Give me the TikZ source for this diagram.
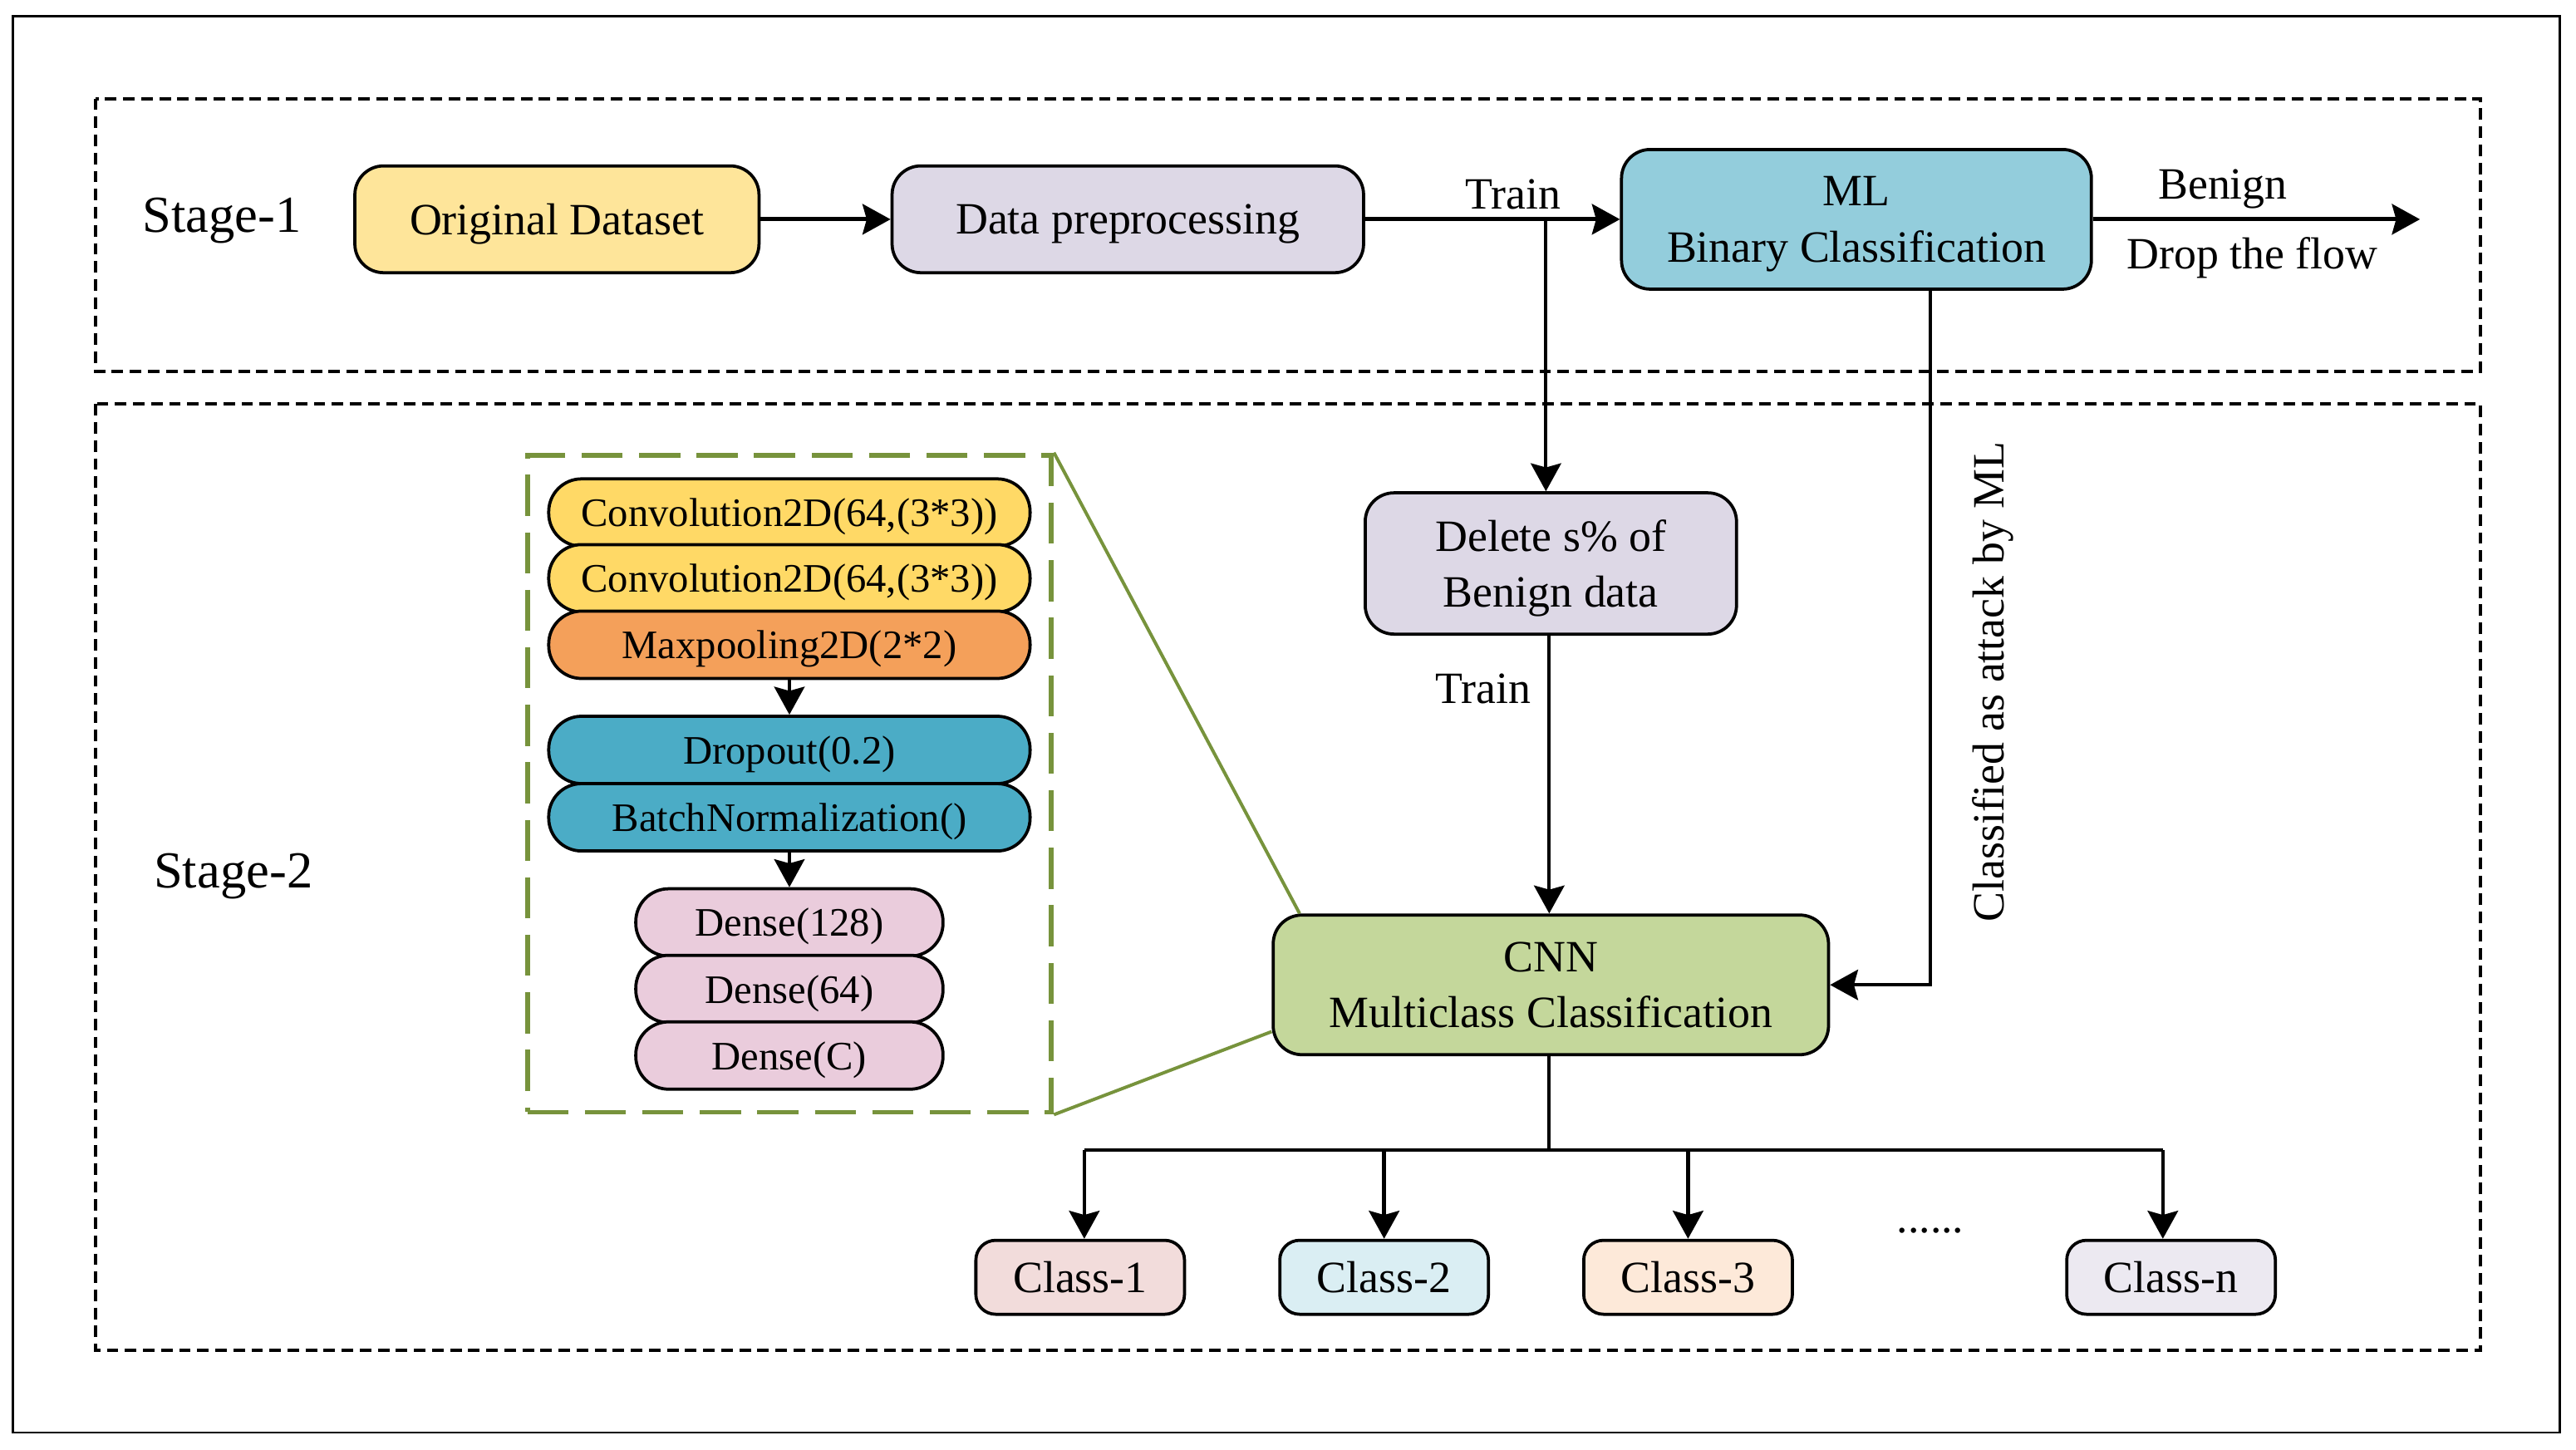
\documentclass[tikz,border=0pt]{standalone}
\usepackage{fontspec}
\setmainfont{Liberation Serif}
\usetikzlibrary{positioning}
\usetikzlibrary{arrows.meta}
\usetikzlibrary{calc}

\definecolor{odfill}{HTML}{FEE59A}
\definecolor{dpfill}{HTML}{DDD8E6}
\definecolor{mlfill}{HTML}{93CDDC}
\definecolor{cnnfill}{HTML}{C4D79B}
\definecolor{convfill}{HTML}{FFD966}
\definecolor{poolfill}{HTML}{F4A05A}
\definecolor{bnfill}{HTML}{4BACC6}
\definecolor{densefill}{HTML}{EACCDC}
\definecolor{clsA}{HTML}{F2DCDB}
\definecolor{clsB}{HTML}{DAEEF3}
\definecolor{clsC}{HTML}{FDE9D9}
\definecolor{clsN}{HTML}{ECE9F1}
\definecolor{zoomgreen}{HTML}{77933C}

\tikzset{
	box/.style={draw, line width=0.38mm, rounded corners=3.5mm, align=center, text depth=0pt, font=\fontsize{15.5}{16.5}\selectfont},
	layer/.style={draw, line width=0.38mm, rounded corners=4mm, minimum height=8.2mm, inner sep=0pt, text depth=0pt, font=\fontsize{14}{16}\selectfont},
	classbox/.style={draw, line width=0.38mm, rounded corners=2.4mm, minimum width=25.4mm, minimum height=9mm, font=\fontsize{15.5}{17}\selectfont},
	stagebox/.style={line width=0.4mm, dash pattern=on 1.4mm off 0.8mm},
	tip/.style={-{Stealth[length=3.4mm,width=3.7mm,inset=0.5mm]}},
	arr/.style={tip, line width=0.5mm},
	thinarr/.style={tip, line width=0.4mm},
	classarr/.style={tip, line width=0.45mm},
	lbl/.style={text depth=0pt, font=\fontsize{15.5}{17}\selectfont}
}

\begin{document}
\begin{tikzpicture}[x=0.2mm, y=-0.2mm]
	\useasboundingbox (0,0) rectangle (1568,882.6);
	
	% frame and stages
	\draw[line width=0.3mm] (8,10) rectangle (1558,872);
	\draw[stagebox] (58,60) rectangle (1510,226);
	\draw[stagebox] (58,246) rectangle (1510,822);
	\node[text depth=0pt, font=\fontsize{18}{20}\selectfont] (s1) at (135,131) {Stage-1};
	\node[text depth=0pt, font=\fontsize{18}{20}\selectfont] (s2) at (142,530) {Stage-2};
	
	% stage 1
	\node[box, fill=odfill, minimum width=49.2mm, minimum height=13mm] (od) at (339,133.5) {Original Dataset};
	\node[box, fill=dpfill, minimum width=57.4mm, minimum height=13mm] (dp) at (686.5,133.5) {Data preprocessing};
	\node[box, fill=mlfill, minimum width=57.2mm, minimum height=17mm] (ml) at (1130,133.5) {ML\\[1mm]Binary Classification};
	\coordinate (split) at (941,133.5);
	\coordinate (drop) at (1473,133.5);
	\coordinate (mlout) at (1175,176);
	
	\draw[arr] (od) -- (dp);
	\draw[arr] (dp) -- (ml);
	\draw[arr] (ml) -- (drop);
	\node[lbl] (tr1) at (921,118) {Train};
	\node[lbl] (ben) at (1353,112) {Benign};
	\node[lbl] (dtf) at (1371,154) {Drop the flow};
	
	% stage 2
	\node[box, fill=dpfill, minimum width=45.2mm, minimum height=17.2mm] (del) at (944,343) {Delete s\% of\\[1mm]Benign data};
	\node[box, fill=cnnfill, minimum width=67.6mm, minimum height=17mm] (cnn) at (944,599.5) {CNN\\[1mm]Multiclass Classification};
	
	\draw[thinarr] (split) -- (split |- del.north);
	\draw[thinarr] ([xshift=-0.2mm]del.south) -- ([xshift=-0.2mm]cnn.north);
	\node[lbl] (tr2) at (903,419) {Train};
	\draw[thinarr] (mlout) |- (cnn.east);
	\node[lbl, rotate=90] (att) at (1210,415) {Classified as attack by ML};
	
	% cnn layers
	\node[draw, zoomgreen, line width=0.6mm, dash pattern=on 5mm off 2mm, minimum width=63.8mm, minimum height=80mm] (zoom) at (480.5,477) {};
	\node[layer, fill=convfill, minimum width=58.6mm] (l1) at (480.5,312) {Convolution2D(64,(3*3))};
	\node[layer, fill=convfill, minimum width=58.6mm] (l2) at (480.5,352) {Convolution2D(64,(3*3))};
	\node[layer, fill=poolfill, minimum width=58.6mm] (l3) at (480.5,392.5) {Maxpooling2D(2*2)};
	\node[layer, fill=bnfill, minimum width=58.6mm] (l4) at (480.5,456.5) {Dropout(0.2)};
	\node[layer, fill=bnfill, minimum width=58.6mm] (l5) at (480.5,497.5) {BatchNormalization()};
	\node[layer, fill=densefill, minimum width=37.4mm] (l6) at (480.5,561.5) {Dense(128)};
	\node[layer, fill=densefill, minimum width=37.4mm] (l7) at (480.5,602) {Dense(64)};
	\node[layer, fill=densefill, minimum width=37.4mm] (l8) at (480.5,642.5) {Dense(C)};
	\draw[thinarr] (l3) -- (l4);
	\draw[thinarr] (l5) -- (l6);
	
	\draw[zoomgreen, line width=0.4mm] (zoom.north east) -- ([xshift=3.4mm]cnn.north west);
	\draw[zoomgreen, line width=0.4mm] (zoom.south east) -- ([yshift=3mm]cnn.south west);
	
	% classes
	\node[classbox, fill=clsA] (c1) at (657.5,777.5) {Class-1};
	\node[classbox, fill=clsB] (c2) at (842.5,777.5) {Class-2};
	\node[classbox, fill=clsC] (c3) at (1027.5,777.5) {Class-3};
	\node[classbox, fill=clsN] (cn) at (1321.5,777.5) {Class-n};
	\node[lbl] (dots) at (1175,749) {......};
	
	\coordinate (bus) at (943,700);
	\draw[line width=0.4mm] (cnn.south -| bus) -- (bus);
	\draw[line width=0.45mm] ([xshift=0.5mm]c1.north |- bus) -- ([xshift=-1mm]cn.north |- bus);
	\draw[classarr] ([xshift=0.5mm]c1.north |- bus) -- ([xshift=0.5mm]c1.north);
	\foreach \c in {c2,c3}
		{\draw[classarr] (\c.north |- bus) -- (\c.north);}
	\draw[classarr] ([xshift=-1mm]cn.north |- bus) -- ([xshift=-1mm]cn.north);
\end{tikzpicture}
\end{document}
